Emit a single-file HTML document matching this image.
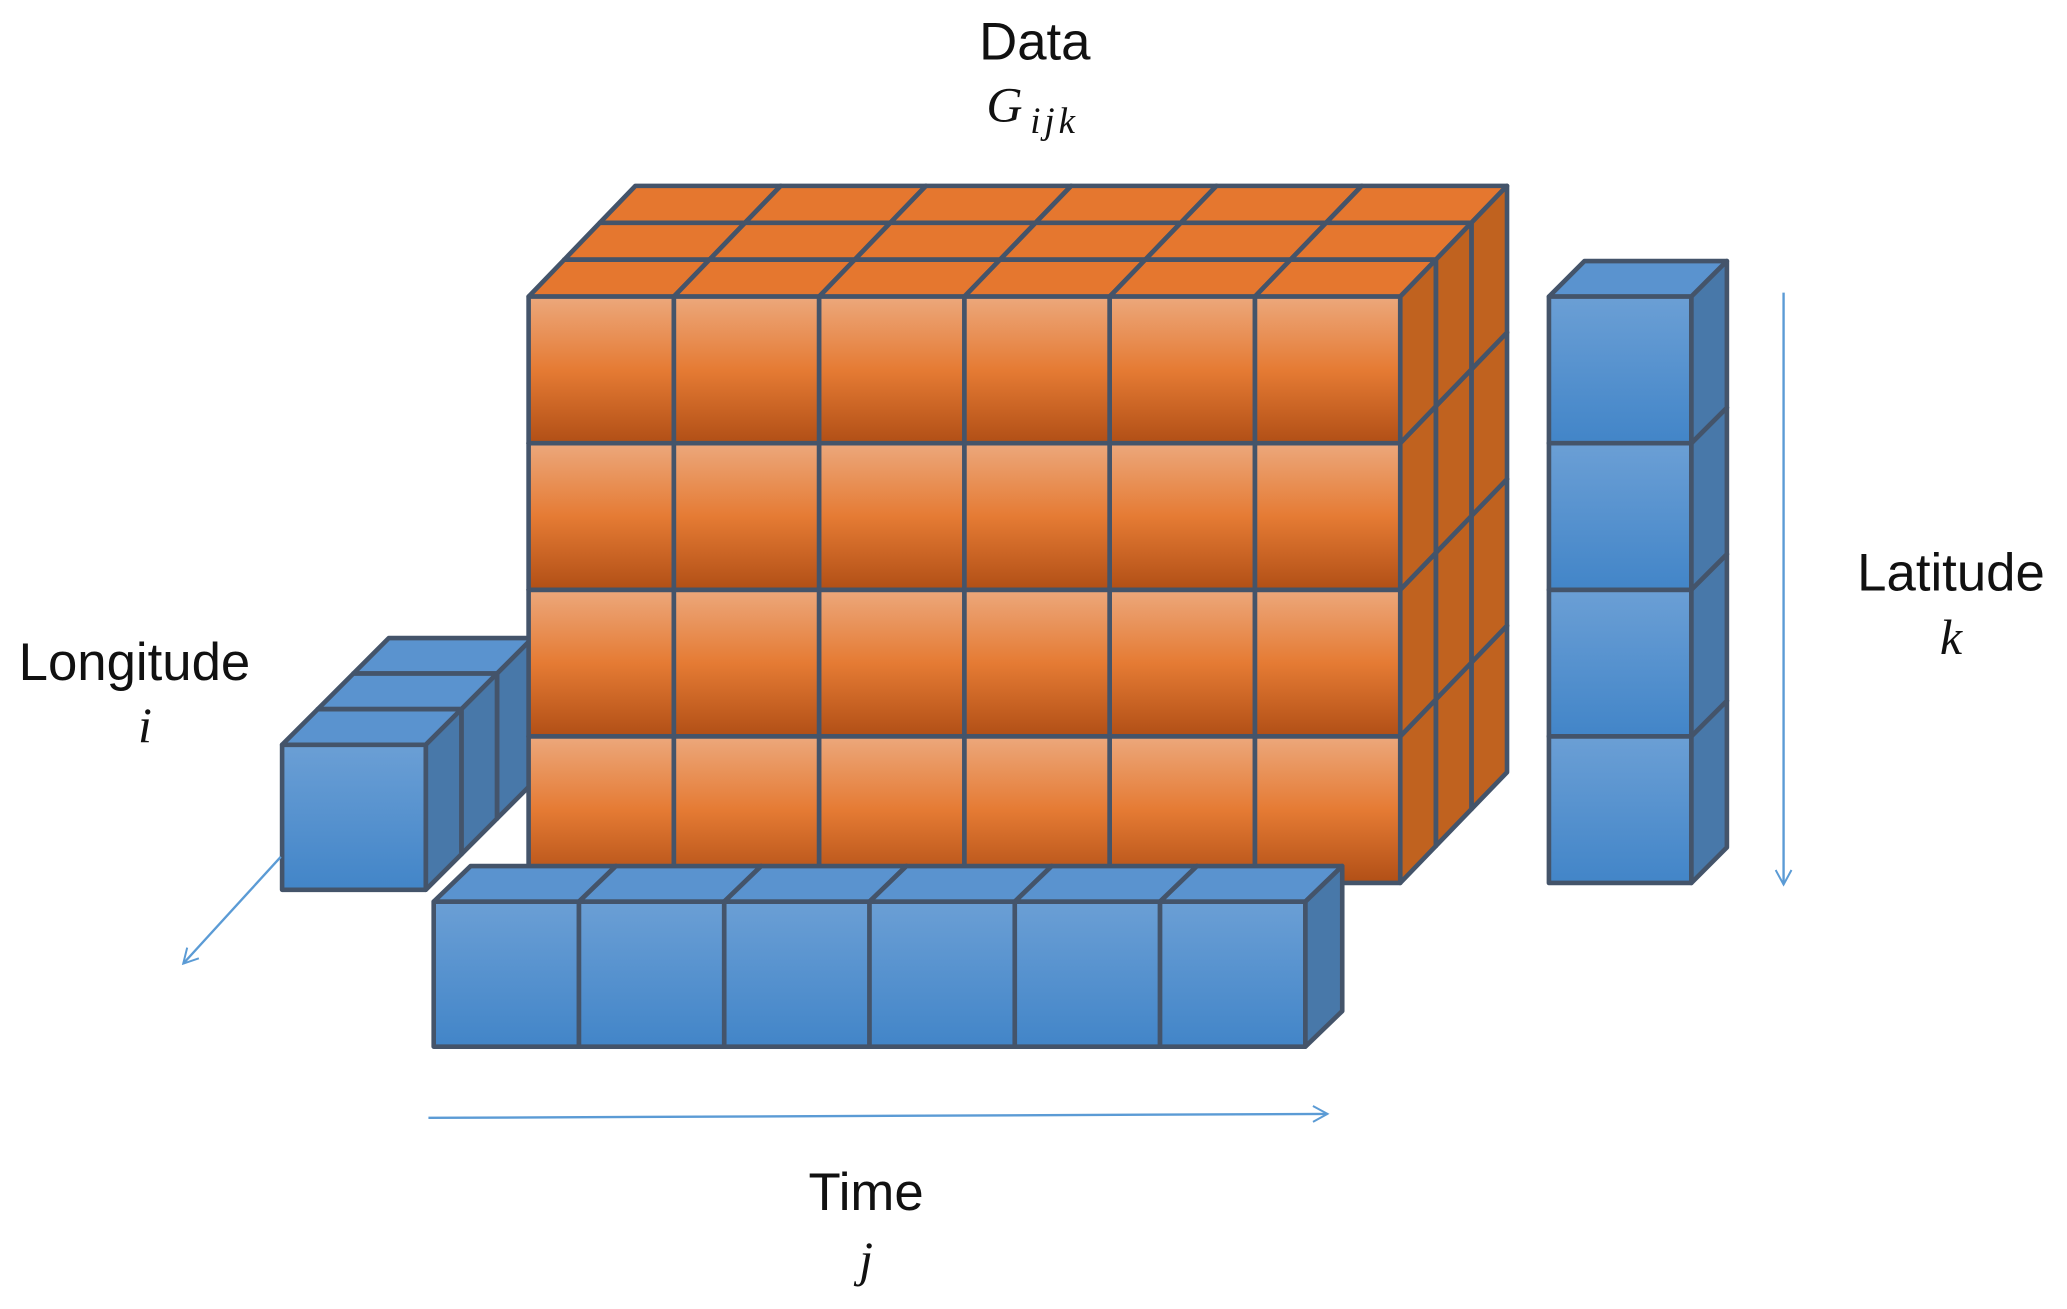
<!DOCTYPE html>
<html><head><meta charset="utf-8"><style>
html,body{margin:0;padding:0;background:#fff;}
svg{display:block}
text{font-family:"Liberation Sans",sans-serif;fill:#111}
.m{font-family:"Liberation Serif",serif;font-style:italic}
</style></head><body>
<svg id="s" width="2067" height="1309" viewBox="0 0 1568 993" preserveAspectRatio="none" xmlns="http://www.w3.org/2000/svg">
<defs>
<linearGradient id="of" x1="0" y1="0" x2="0" y2="1">
<stop offset="0" stop-color="#eca87c"/><stop offset="0.5" stop-color="#e57b34"/><stop offset="1" stop-color="#b14f16"/></linearGradient>
<linearGradient id="bf" x1="0" y1="0" x2="0" y2="1">
<stop offset="0" stop-color="#6b9fd5"/><stop offset="1" stop-color="#4285c8"/></linearGradient>
<marker id="ar" markerWidth="14" markerHeight="14" refX="12" refY="7" orient="auto" markerUnits="userSpaceOnUse">
<path d="M1,1 L12,7 L1,13" fill="none" stroke="#5b9bd5" stroke-width="1.5"/></marker>
</defs>
<g id="g"></g>
<line x1="213" y1="650" x2="139" y2="731" stroke="#5b9bd5" stroke-width="1.8" marker-end="url(#ar)"/>
<line x1="325" y1="848" x2="1007" y2="845" stroke="#5b9bd5" stroke-width="1.8" marker-end="url(#ar)"/>
<line x1="1353" y1="222" x2="1353" y2="671" stroke="#5b9bd5" stroke-width="1.8" marker-end="url(#ar)"/>
<text x="785" y="45" font-size="40" text-anchor="middle">Data</text>
<text x="762" y="92" font-size="38" class="m" text-anchor="middle">G</text>
<text x="800" y="101" font-size="28" class="m" text-anchor="middle" letter-spacing="3">ijk</text>
<text x="102" y="516" font-size="40" text-anchor="middle">Longitude</text>
<text x="110" y="563" font-size="38" class="m" text-anchor="middle">i</text>
<text x="1480" y="448" font-size="40" text-anchor="middle">Latitude</text>
<text x="1480" y="496" font-size="38" class="m" text-anchor="middle">k</text>
<text x="657" y="918" font-size="40" text-anchor="middle">Time</text>
<text x="657" y="968" font-size="38" class="m" text-anchor="middle">j</text>
</svg>
<script>
var g=document.getElementById('g'),h='';
function poly(p,f){h+='<polygon points="'+p.map(function(a){return a[0].toFixed(1)+','+a[1].toFixed(1)}).join(' ')+'" fill="'+f+'" stroke="#44546a" stroke-width="3.5" stroke-linejoin="round"/>';}
function block(x0,y0,cw,ch,nc,nr,nd,dx,dy,fr,tp,sd){
 for(var d=nd-1;d>=0;d--)for(var c=0;c<nc;c++)for(var r=nr-1;r>=0;r--){
  var x=x0+c*cw+d*dx,y=y0+r*ch+d*dy;
  poly([[x,y],[x+dx,y+dy],[x+cw+dx,y+dy],[x+cw,y]],tp);
  poly([[x+cw,y],[x+cw+dx,y+dy],[x+cw+dx,y+ch+dy],[x+cw,y+ch]],sd);
  poly([[x,y],[x+cw,y],[x+cw,y+ch],[x,y+ch]],fr);
 }}
block(214,565,109,110,1,1,3,27,-27,'url(#bf)','#5a93cf','#4878a9');
block(401,225,110.2,111.2,6,4,3,27,-28,'url(#of)','#e5772f','#c0621f');
block(1175,225,108,111.2,1,4,1,27,-27,'url(#bf)','#5a93cf','#4878a9');
block(329,684,110.2,110,6,1,1,28,-27,'url(#bf)','#5a93cf','#4878a9');
g.innerHTML=h;
</script>
</body></html>
